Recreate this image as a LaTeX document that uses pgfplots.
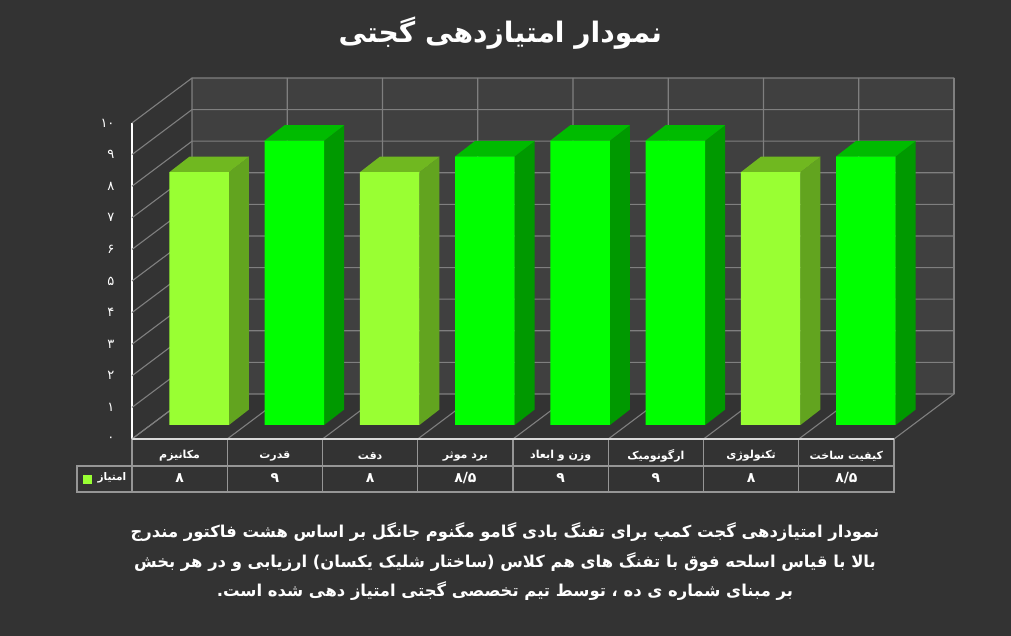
\documentclass[border=0pt]{standalone}
\usepackage{fontspec}
\usepackage{pgfplots}
\pgfplotsset{compat=1.18}
\TeXXeTstate=1
\newfontfamily\arabicfont[Script=Arabic]{DejaVu Sans}
\definecolor{bgcol}{HTML}{333333}
\definecolor{wallcol}{HTML}{404040}
\definecolor{gridcol}{HTML}{7F7F7F}
\definecolor{tablecol}{HTML}{969696}
\definecolor{limefront}{HTML}{99FF33}
\definecolor{limeside}{HTML}{62A41F}
\definecolor{limetop}{HTML}{70B820}
\definecolor{greenfront}{HTML}{00FF00}
\definecolor{greenside}{HTML}{009900}
\definecolor{greentop}{HTML}{00BB00}
% side and top face of one bar: x, value, side colour, top colour
\newcommand{\barfaces}[4]{%
  \pgfmathsetmacro\xl{#1+0.205-0.313}%
  \pgfmathsetmacro\xr{#1+0.205+0.313}%
  \pgfmathsetmacro\xlb{\xl+0.21}%
  \pgfmathsetmacro\xrb{\xr+0.21}%
  \pgfmathsetmacro\ya{0.443}%
  \pgfmathsetmacro\yab{\ya+0.49}%
  \pgfmathsetmacro\yt{#2+0.443}%
  \pgfmathsetmacro\ytb{\yt+0.49}%
  \edef\temp{\noexpand\addplot[fill=#3,draw=none] coordinates {(\xr,\ya) (\xr,\yt) (\xrb,\ytb) (\xrb,\yab)} -- cycle;
    \noexpand\addplot[fill=#4,draw=none] coordinates {(\xl,\yt) (\xr,\yt) (\xrb,\ytb) (\xlb,\ytb)} -- cycle;}%
  \temp
}
\begin{document}
\begin{tikzpicture}
\fill[bgcol] (-132pt,-197pt) rectangle (879pt,439pt);
\begin{axis}[
  scale only axis, width=762pt, height=316pt,
  clip=false,
  xmin=-0.5, xmax=7.5, ymin=0, ymax=10,
  axis x line=bottom, axis y line=left,
  axis line style={-, white, line width=1.2pt},
  major tick length=0pt,
  ytick={0,...,10},
  yticklabels={۰,۱,۲,۳,۴,۵,۶,۷,۸,۹,۱۰},
  yticklabel style={font=\arabicfont\fontsize{13}{13}\selectfont, text=white, xshift=-14pt},
  xtick={0,...,7},
  xticklabels={
    {\beginR مکانیزم\endR},
    {\beginR قدرت\endR},
    {\beginR دقت\endR},
    {\beginR برد موثر\endR},
    {\beginR وزن و ابعاد\endR},
    {\beginR ارگونومیک\endR},
    {\beginR تکنولوژی\endR},
    {\beginR کیفیت ساخت\endR}},
  xticklabel style={font=\arabicfont\bfseries\fontsize{11}{11}\selectfont, text=white, anchor=center, yshift=-17pt},
  title={\beginR نمودار امتیازدهی گجتی\endR},
  title style={at={(0.4833,1.265)}, anchor=center, font=\arabicfont\bfseries\fontsize{28.2}{28.2}\selectfont, text=white},
]
% walls and floor
\addplot[fill=wallcol,draw=none] coordinates {(0.13,1.424) (8.13,1.424) (8.13,11.424) (0.13,11.424)} -- cycle;
\pgfplotsinvokeforeach{0,...,10}{
  \draw[gridcol,line width=1.1pt] (axis cs:-0.5,#1) -- (axis cs:0.13,#1+1.424) -- (axis cs:8.13,#1+1.424);
}
\pgfplotsinvokeforeach{0,...,8}{
  \draw[gridcol,line width=1.1pt] (axis cs:#1-0.5,0) -- (axis cs:#1+0.13,1.424) -- (axis cs:#1+0.13,11.424);
}
\draw[gridcol,line width=1.1pt] (axis cs:8.13,1.424) -- (axis cs:8.13,11.424);
% bars
\barfaces{0}{8}{limeside}{limetop}
\barfaces{1}{9}{greenside}{greentop}
\barfaces{2}{8}{limeside}{limetop}
\barfaces{3}{8.5}{greenside}{greentop}
\barfaces{4}{9}{greenside}{greentop}
\barfaces{5}{9}{greenside}{greentop}
\barfaces{6}{8}{limeside}{limetop}
\barfaces{7}{8.5}{greenside}{greentop}
\addplot[ybar, bar width=59.6pt, bar shift=0pt, xshift=19.5pt, yshift=14pt, fill=limefront, draw=none]
  coordinates {(0,8) (2,8) (6,8)};
\addplot[ybar, bar width=59.6pt, bar shift=0pt, xshift=19.5pt, yshift=14pt, fill=greenfront, draw=none]
  coordinates {(1,9) (3,8.5) (4,9) (5,9) (7,8.5)};
% data table under the axis
\draw[tablecol,line width=1.1pt] (-55pt,-27pt) rectangle (762pt,-53pt);
\draw[tablecol,line width=1.1pt] (0pt,-53pt) -- (0pt,0pt);
\pgfplotsinvokeforeach{0,...,7}{
  \draw[tablecol,line width=1.1pt] (axis cs:#1+0.5,0) -- ++(0pt,-53pt);
}
\draw[gray!30!white,line width=1.2pt] (0pt,0pt) -- (762pt,0pt);
\fill[limefront] (-49pt,-36pt) rectangle (-40pt,-45pt);
\node[text=white,font=\arabicfont\bfseries\fontsize{10.5}{10.5}\selectfont] at (-20pt,-39pt) {\beginR امتیاز\endR};
\end{axis}
% value row
\begin{scope}[every node/.style={text=white,font=\arabicfont\bfseries\fontsize{14}{14}\selectfont}]
\node at (47.6pt,-39pt) {۸};
\node at (142.9pt,-39pt) {۹};
\node at (238.1pt,-39pt) {۸};
\node at (333.4pt,-39pt) {۸/۵};
\node at (428.6pt,-39pt) {۹};
\node at (523.9pt,-39pt) {۹};
\node at (619.1pt,-39pt) {۸};
\node at (714.4pt,-39pt) {۸/۵};
\end{scope}
% note below the table
\begin{scope}[every node/.style={text=white,font=\arabicfont\bfseries\fontsize{16.4}{16.4}\selectfont}]
\node at (373pt,-93pt) {\beginR نمودار امتیازدهی گجت کمپ برای تفنگ بادی گامو مگنوم جانگل بر اساس هشت فاکتور مندرج\endR};
\node at (373pt,-123pt) {\beginR بالا با قیاس اسلحه فوق با تفنگ های هم کلاس (ساختار شلیک یکسان) ارزیابی و در هر بخش\endR};
\node at (373pt,-152pt) {\beginR بر مبنای شماره ی ده ، توسط تیم تخصصی گجتی امتیاز دهی شده است.\endR};
\end{scope}
\end{tikzpicture}
\end{document}
